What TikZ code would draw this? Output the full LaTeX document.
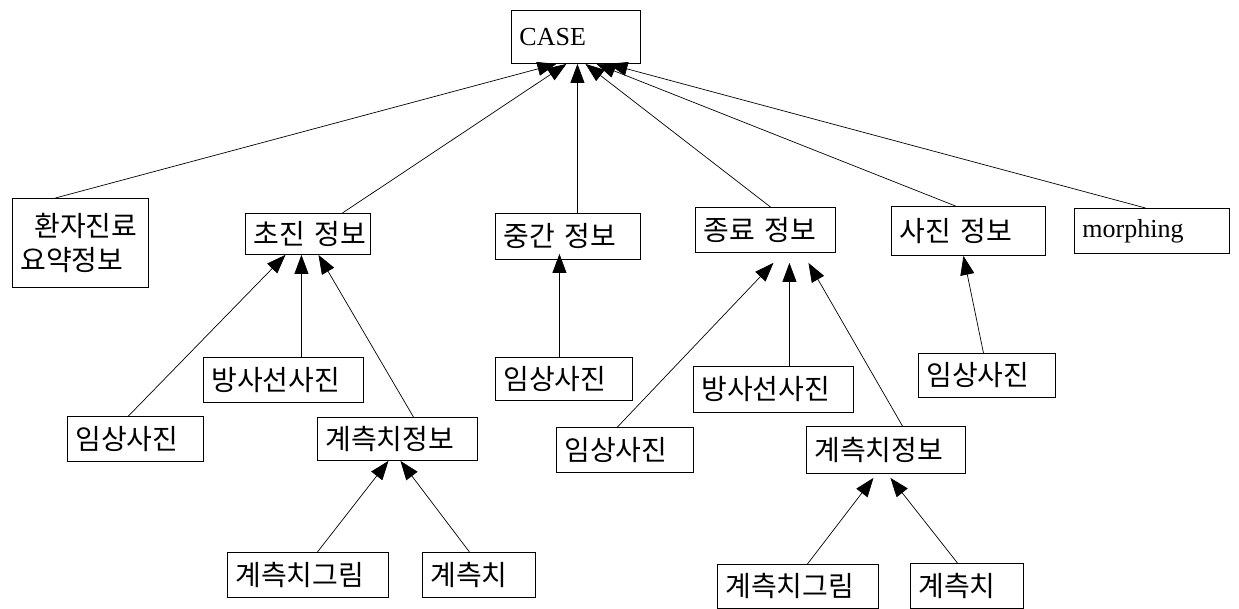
\documentclass[tikz,border=0pt]{standalone}
\usepackage{fontspec}
\setmainfont{Liberation Serif}
\newfontfamily\kr{Noto Sans CJK KR}
\usetikzlibrary{arrows.meta}

\begin{document}
\begin{tikzpicture}[x=1pt, y=-1pt,
  box/.style={draw, line width=0.9pt, anchor=north west, inner xsep=8pt, inner ysep=0pt, align=left},
  lat/.style={box, font=\fontsize{26}{33}\selectfont},
  kr/.style={box, font=\kr\fontsize{28}{34}\selectfont},
  arr/.style={-{Triangle[length=19pt,width=14pt]}, line width=0.7pt}]
\useasboundingbox (0,0) rectangle (1239,609);

\node[lat, text width=113pt, minimum height=53pt] (case) at (511,10) {CASE};

\node[kr, text width=120pt, minimum height=89pt] (hwanja) at (12,198) {\hspace*{14pt}환자진료\\요약정보};
\node[kr, text width=109pt, minimum height=41pt] (chojin) at (245,213) {초진~정보};
\node[kr, text width=129pt, minimum height=46pt] (junggan) at (495,213) {중간~정보};
\node[kr, text width=124pt, minimum height=45pt] (jongryo) at (695,207) {종료~정보};
\node[kr, text width=138pt, minimum height=49pt] (sajin) at (891,206) {사진~정보};
\node[lat, text width=139pt, minimum height=45pt] (morph) at (1074,208) {morphing};

\node[kr, text width=120pt, minimum height=45pt] (imsangA) at (67,416) {임상사진};
\node[kr, text width=144pt, minimum height=45pt] (bangsaA) at (203,357) {방사선사진};
\node[kr, text width=144pt, minimum height=43pt] (gyecheukA) at (317,417) {계측치정보};
\node[kr, text width=145pt, minimum height=45pt] (geurimA) at (227,552) {계측치그림};
\node[kr, text width=97pt, minimum height=45pt] (chiA) at (422,552) {계측치};

\node[kr, text width=121pt, minimum height=43pt] (imsangB) at (495,357) {임상사진};

\node[kr, text width=121pt, minimum height=45pt] (imsangC) at (556,427) {임상사진};
\node[kr, text width=144pt, minimum height=46pt] (bangsaC) at (693,366) {방사선사진};
\node[kr, text width=143pt, minimum height=47pt] (gyecheukC) at (806,426) {계측치정보};
\node[kr, text width=145pt, minimum height=44pt] (geurimC) at (717,564) {계측치그림};
\node[kr, text width=97pt, minimum height=45pt] (chiC) at (910,563) {계측치};

\node[kr, text width=121pt, minimum height=44pt] (imsangD) at (918,353) {임상사진};

\draw[arr] ([xshift=-25pt]hwanja.north) -- ([xshift=-19.5pt]case.south);
\draw[arr] ([xshift=34.5pt]chojin.north) -- ([xshift=-9.5pt]case.south);
\draw[arr] ([xshift=9.5pt]junggan.north) -- ([xshift=1.5pt]case.south);
\draw[arr] ([xshift=5pt]jongryo.north) -- ([xshift=9.5pt]case.south);
\draw[arr] ([xshift=-13pt]sajin.north) -- ([xshift=20.5pt]case.south);
\draw[arr] ([xshift=-6.5pt]morph.north) -- ([xshift=32.5pt]case.south);

\draw[arr] ([xshift=-7pt]imsangA.north) -- ([xshift=-22.5pt]chojin.south);
\draw[arr] ([xshift=18pt]bangsaA.north) -- ([xshift=-6.5pt]chojin.south);
\draw[arr] ([xshift=16pt]gyecheukA.north) -- ([xshift=10.5pt]chojin.south);
\draw[arr] ([xshift=9.5pt]geurimA.north) -- ([xshift=-9pt]gyecheukA.south);
\draw[arr] ([xshift=-9.5pt]chiA.north) -- ([xshift=3pt]gyecheukA.south);

\draw[arr] ([xshift=-4.5pt]imsangB.north) -- ([xshift=-8.5pt,yshift=6pt]junggan.south);

\draw[arr] ([xshift=-7.5pt]imsangC.north) -- ([xshift=8pt,yshift=-10pt]jongryo.south);
\draw[arr] ([xshift=16pt]bangsaC.north) -- ([xshift=24pt,yshift=-10pt]jongryo.south);
\draw[arr] ([xshift=16.5pt]gyecheukC.north) -- ([xshift=43pt,yshift=-10pt]jongryo.south);
\draw[arr] ([xshift=9.5pt]geurimC.north) -- ([xshift=-12.5pt,yshift=-4pt]gyecheukC.south);
\draw[arr] ([xshift=-9.5pt]chiC.north) -- ([xshift=4.5pt,yshift=-4pt]gyecheukC.south);

\draw[arr] ([xshift=-3.5pt]imsangD.north) -- ([xshift=-5pt]sajin.south);
\end{tikzpicture}
\end{document}
